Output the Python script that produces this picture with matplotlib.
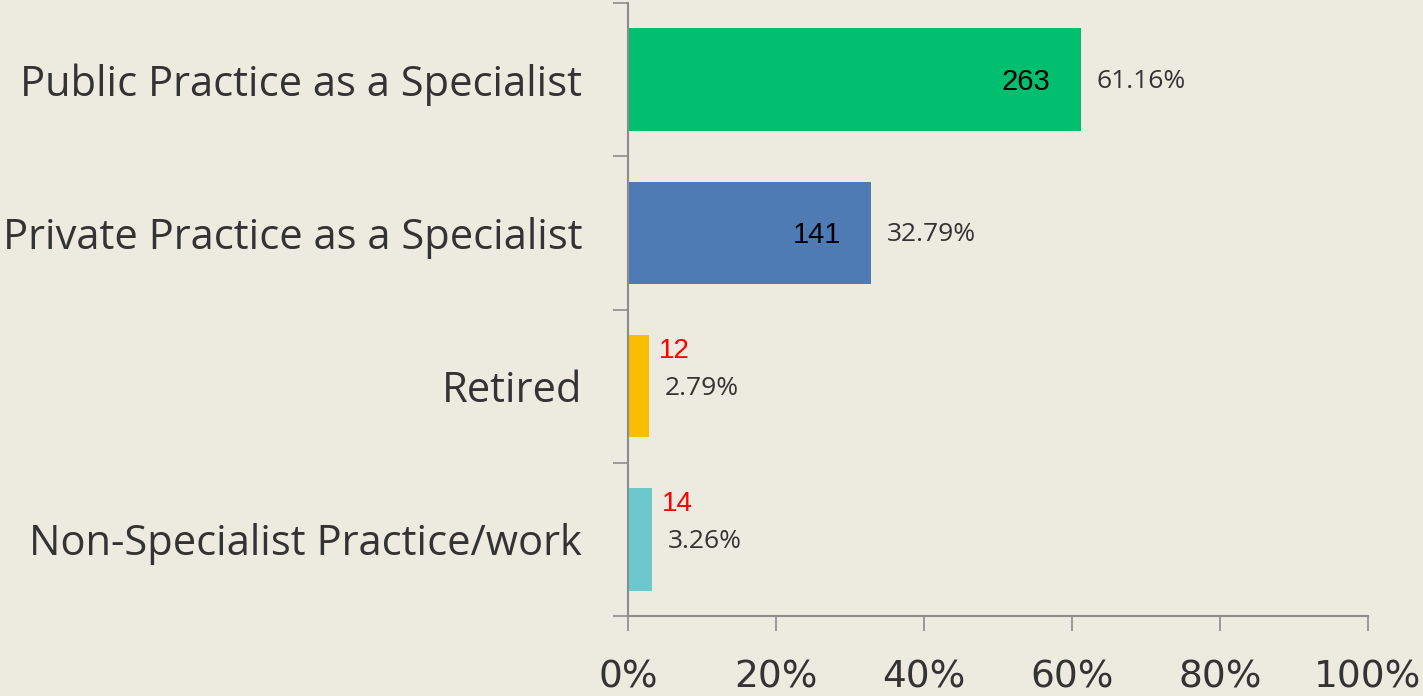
import matplotlib
matplotlib.use("Agg")
import matplotlib.pyplot as plt

categories = ["Public Practice as a Specialist", "Private Practice as a Specialist",
              "Retired", "Non-Specialist Practice/work"]
counts = [263, 141, 12, 14]
percents = [61.16, 32.79, 2.79, 3.26]
colors = ["#00BF6F", "#4F7BB5", "#F9BE00", "#6CC8CC"]
xticks = [0, 20, 40, 60, 80, 100]

bg = "#EDEAE0"
axis_col = "#8C8C8C"

fig = plt.figure(figsize=(14.23, 6.96), dpi=100, facecolor=bg)
ax = fig.add_axes([628 / 1423, 1 - 616 / 696, 740 / 1423, 613 / 696])
ax.set_facecolor(bg)

ypos = list(range(len(categories)))
ax.barh(ypos, percents, height=0.67, color=colors)

ax.set_xlim(0, 100)
ax.set_ylim(3.5, -0.5)

for s in ["top", "right"]:
    ax.spines[s].set_visible(False)
for s in ["left", "bottom"]:
    ax.spines[s].set_color(axis_col)
    ax.spines[s].set_linewidth(1.5)

ax.set_xticks(xticks)
ax.set_xticklabels([f"{v}%" for v in xticks], family="DejaVu Sans",
                   fontsize=27, color="#333333")
ax.tick_params(axis="x", length=11, width=1.2, color=axis_col, pad=20)

ax.set_yticks(ypos)
ax.set_yticklabels(categories, family=["Open Sans", "DejaVu Sans"], fontsize=30, color="#333333")
ax.set_yticks([-0.5, 0.5, 1.5, 2.5, 3.5], minor=True)
ax.tick_params(axis="y", which="major", length=0, pad=33)
ax.tick_params(axis="y", which="minor", length=11, width=1.2, color=axis_col)

for y, c, p in zip(ypos, counts, percents):
    if p > 10:
        ax.annotate(str(c), (p, y), xytext=(-30, -2), textcoords="offset pixels",
                    ha="right", va="center", fontsize=21, family="Liberation Sans", color="black")
    else:
        ax.annotate(str(c), (p, y), xytext=(10, 35), textcoords="offset pixels",
                    ha="left", va="center", fontsize=20, family="Liberation Sans", color="red")
    ax.annotate(f"{p:.2f}%", (p, y), xytext=(16, -2), textcoords="offset pixels",
                ha="left", va="center", fontsize=19, family="Open Sans", color="#333333")

fig.savefig("out.png", dpi=100, facecolor=bg)
